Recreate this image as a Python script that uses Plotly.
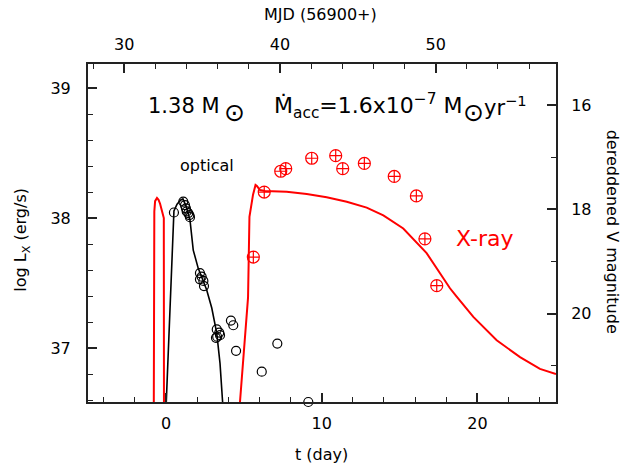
import plotly.graph_objects as go

# ---- data ----
# X-ray observations (t [day], log L_X)
xray_t = [5.61, 6.31, 7.37, 7.69, 9.36, 10.90, 11.35, 12.74, 14.66, 16.08, 16.63, 17.39]
xray_logL = [37.70, 38.20, 38.36, 38.38, 38.46, 38.48, 38.38, 38.42, 38.32, 38.17, 37.84, 37.48]

# optical observations (t [day], dereddened V mag)
opt_t = [0.51, 1.11, 1.22, 1.28, 1.33, 1.43, 1.50, 1.54, 2.18, 2.29, 2.18, 2.40, 2.44,
         3.26, 3.42, 3.29, 3.47, 3.21, 4.17, 4.32, 4.50, 6.15, 7.15, 9.14]
opt_mag = [18.06, 17.85, 17.92, 17.98, 18.04, 18.07, 18.11, 18.15, 19.22, 19.29, 19.34, 19.37, 19.47,
           20.30, 20.36, 20.44, 20.41, 20.46, 20.13, 20.22, 20.71, 21.11, 20.57, 21.69]

# model X-ray light curve (log L_X)
model_x_t = [-0.79, -0.75, -0.70, -0.64, -0.58, -0.48, -0.38, -0.25, -0.14, -0.13, None,
             4.60, 5.27, 5.36, 5.59, 5.75, 5.84, 6.04, 6.36, 7.75, 9.04, 10.32, 11.61, 12.89,
             13.96, 15.24, 15.88, 16.74, 17.60, 18.24, 18.67, 19.74, 21.24, 22.74, 24.02, 25.05]
model_x_logL = [36.30, 38.05, 38.13, 38.15, 38.155, 38.14, 38.11, 38.05, 38.00, 36.30, None,
                36.35, 37.39, 38.01, 38.18, 38.254, 38.246, 38.215, 38.208, 38.202, 38.185, 38.16,
                38.125, 38.08, 38.02, 37.92, 37.84, 37.73, 37.575, 37.46, 37.395, 37.24, 37.06,
                36.93, 36.84, 36.80]

# model optical light curve (V mag)
model_v_t = [-0.05, 0.51, 0.71, 0.95, 1.09, 1.30, 1.54, 1.75, 2.07, 2.61, 2.94, 3.26, 3.47, 3.68, 3.75]
model_v_mag = [22.2, 18.03, 17.90, 17.82, 17.80, 17.95, 18.20, 18.78, 19.13, 19.54, 19.89, 20.37,
               20.95, 21.69, 22.2]

mjd_offset = 32.68  # MJD-56900 at t=0
t_range = [-5.01, 25.05]
logL_range = [36.585, 39.185]
mag_range = [21.69, 15.215]

FONT = "DejaVu Sans"
RED = "#ff0000"

fig = go.Figure()

fig.add_trace(go.Scatter(x=model_x_t, y=model_x_logL, mode="lines",
                         line=dict(color=RED, width=2), connectgaps=False,
                         xaxis="x", yaxis="y", showlegend=False))
fig.add_trace(go.Scatter(x=model_v_t, y=model_v_mag, mode="lines",
                         line=dict(color="black", width=1.6),
                         xaxis="x", yaxis="y2", showlegend=False))
fig.add_trace(go.Scatter(x=opt_t, y=opt_mag, mode="markers",
                         marker=dict(symbol="circle-open", size=9, color="black",
                                     line=dict(width=1.2, color="black")),
                         xaxis="x", yaxis="y2", showlegend=False, cliponaxis=False))
fig.add_trace(go.Scatter(x=xray_t, y=xray_logL, mode="markers",
                         marker=dict(symbol="circle-cross-open", size=12, color=RED,
                                     line=dict(width=1.2, color=RED)),
                         xaxis="x", yaxis="y", showlegend=False))
# dummy trace for top axis
fig.add_trace(go.Scatter(x=[t_range[0] + mjd_offset], y=[None], xaxis="x2", yaxis="y",
                         showlegend=False, hoverinfo="skip"))

tickfont = dict(family=FONT, size=16, color="black")
common = dict(showline=True, linecolor="#222", linewidth=2, ticks="inside", ticklen=9,
              tickwidth=1.5, tickcolor="#222", showgrid=False, zeroline=False,
              tickfont=tickfont)
minor_common = dict(ticklen=5, tickwidth=1.3, ticks="inside", tickcolor="#222", tick0=0)

fig.update_layout(
    width=631, height=466, autosize=False,
    margin=dict(l=88, r=75, t=64, b=64, pad=0),
    paper_bgcolor="white", plot_bgcolor="white",
    xaxis=dict(range=t_range, tickmode="linear", tick0=0, dtick=10,
               minor=dict(dtick=2, **minor_common),
               side="bottom", anchor="y", ticklabelstandoff=6, **common),
    xaxis2=dict(range=[t_range[0] + mjd_offset, t_range[1] + mjd_offset], tickmode="linear",
                tick0=0, dtick=10, overlaying="x", side="top", anchor="y",
                minor=dict(dtick=2, **minor_common),
                ticklabelstandoff=6, **common),
    yaxis=dict(range=logL_range, tickmode="linear", tick0=0, dtick=1,
               minor=dict(dtick=0.2, **minor_common),
               side="left", anchor="x", ticklabelstandoff=12, **common),
    yaxis2=dict(range=mag_range, tickmode="linear", tick0=0, dtick=2,
                minor=dict(dtick=1, **minor_common),
                overlaying="y", side="right", anchor="x", ticklabelstandoff=10, **common),
)

def px(xp):
    return (xp - 88) / 468

def py(yp):
    return (402.3 - yp) / 338

annots = [
    dict(text="MJD (56900+)", x=px(320), y=py(15), size=16, angle=0, color="black", anchor="center"),
    dict(text="t (day)", x=px(321), y=py(455), size=16, angle=0, color="black", anchor="center"),
    dict(text="log L<sub>X</sub> (erg/s)", x=px(22), y=py(240), size=16, angle=-90, color="black", anchor="center"),
    dict(text="dereddened V magnitude", x=px(612), y=py(232), size=16, angle=90, color="black", anchor="center"),
    dict(text="optical", x=px(207), y=py(166), size=16, angle=0, color="black", anchor="center"),
    dict(text="X-ray", x=px(484), y=py(239), size=22, angle=0, color=RED, anchor="center"),
    dict(text="1.38 M", x=px(146), y=py(106), size=21, angle=0, color="black", anchor="left"),
    dict(text="⊙", x=px(234.5), y=py(113), size=25, angle=0, color="black", anchor="center"),
    dict(text="Ṁ<sub>acc</sub>=1.6x10<sup>−7</sup> M", x=px(272), y=py(106), size=22, angle=0,
         color="black", anchor="left"),
    dict(text="⊙", x=px(473), y=py(113), size=25, angle=0, color="black", anchor="center"),
    dict(text="yr<sup>−1</sup>", x=px(482), y=py(106), size=21, angle=0, color="black", anchor="left"),
]
for a in annots:
    fig.add_annotation(text=a["text"], x=a["x"], y=a["y"], xref="paper", yref="paper",
                       showarrow=False, textangle=a["angle"], xanchor=a["anchor"], yanchor="middle",
                       font=dict(family=FONT, size=a["size"], color=a["color"]))

fig.write_html("out.html", config={"displayModeBar": False},
               post_script="document.body.style.margin='0px';document.body.style.overflow='hidden';")
